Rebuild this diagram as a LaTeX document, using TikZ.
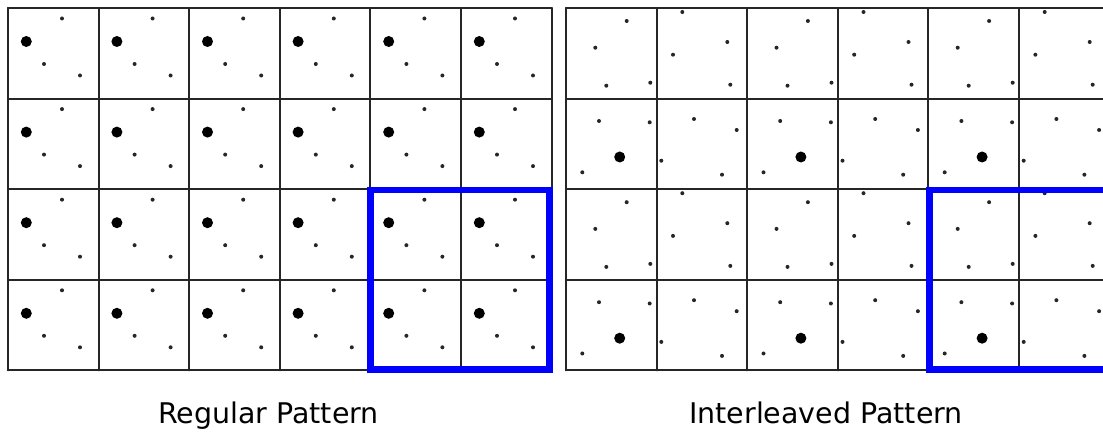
\documentclass[tikz,border=0pt]{standalone}
\usepackage{fontspec}
\setmainfont{DejaVu Sans}
\usetikzlibrary{positioning}

\begin{document}
\begin{tikzpicture}[x=0.02cm, y=-0.02cm,
        gridline/.style={draw=black!85, line width=1.15pt, line cap=round, line join=round},
        bigdot/.style={fill=black},
        smalldot/.style={fill=black!85},
        selbox/.style={draw=blue, line width=3.8pt},
        caption/.style={anchor=base, font=\fontsize{16.2}{19}\selectfont}]
        \clip (0,0) rectangle (1103,435);
        \def\cellsz{90.6}

        % regular pattern, same samples in every pixel
        \foreach \c in {0,...,5} {
            \foreach \r in {0,...,3} {
                \begin{scope}[shift={(8+\c*\cellsz, 8+\r*\cellsz)}]
                    \fill[bigdot] (18.3,33.5) circle (5.5);
                    \fill[smalldot] (54,10.5) circle (2);
                    \fill[smalldot] (36,56) circle (2);
                    \fill[smalldot] (72,67.5) circle (2);
                \end{scope}
            }
        }
        \foreach \i in {0,...,6} \draw[gridline] (8+\i*\cellsz, 8) -- (8+\i*\cellsz, 8+4*\cellsz);
        \foreach \j in {0,...,4} \draw[gridline] (8, 8+\j*\cellsz) -- (8+6*\cellsz, 8+\j*\cellsz);

        % interleaved pattern, repeats every 2x2 pixels
        \foreach \c in {0,...,2} {
            \foreach \r in {0,...,1} {
                \begin{scope}[shift={(566+2*\c*\cellsz, 8+2*\r*\cellsz)}]
                    \foreach \p in {(60.7,13), (29.3,39.7), (40.3,77.7), (84.3,74.7),
                                    (116.3,4), (161.3,34), (107,46.7), (164.3,76.7),
                                    (33,113), (83.7,114.3), (16.3,164.3),
                                    (128,111), (170.7,122), (95.3,152.7), (156,166.7)}
                        \fill[smalldot] \p circle (2);
                    \fill[bigdot] (53.7,149) circle (5.5);
                \end{scope}
            }
        }
        \foreach \i in {0,...,6} \draw[gridline] (566+\i*\cellsz, 8) -- (566+\i*\cellsz, 8+4*\cellsz);
        \foreach \j in {0,...,4} \draw[gridline] (566, 8+\j*\cellsz) -- (566+6*\cellsz, 8+\j*\cellsz);

        \draw[selbox] (370.7,190) rectangle (549.3,369.3);
        \draw[selbox] (929.7,190) rectangle (1108.3,369.3);

        \node (regcap) [caption] at (268.5,424) {Regular Pattern};
        \node (ilvcap) [caption] at (826,424) {Interleaved Pattern};
\end{tikzpicture}
\end{document}
